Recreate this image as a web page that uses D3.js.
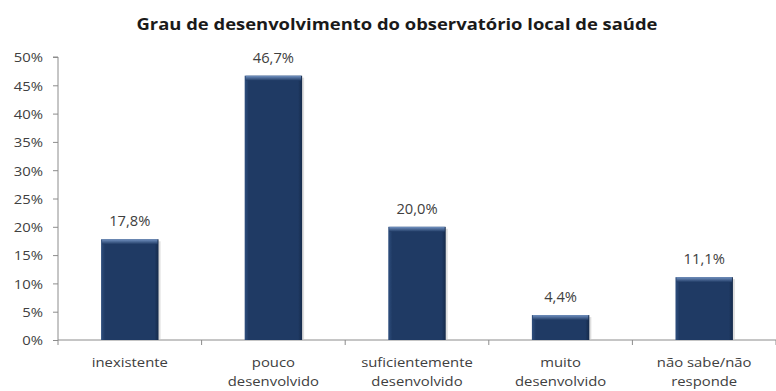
<!DOCTYPE html>
<html><head><meta charset="utf-8">
<script src="https://cdn.jsdelivr.net/npm/d3@7"></script>
<style>body{margin:0;background:#fff;} text{font-family:"Open Sans",Lato,sans-serif;}</style>
</head><body>
<svg id="c" width="776" height="391"></svg>
<script>
const categories = [["inexistente"],["pouco","desenvolvido"],["suficientemente","desenvolvido"],["muito","desenvolvido"],["não sabe/não","responde"]];
const values = [17.8, 46.7, 20.0, 4.4, 11.1];
const valueLabels = ["17,8%","46,7%","20,0%","4,4%","11,1%"];
const yTicks = [0,5,10,15,20,25,30,35,40,45,50];
const title = "Grau de desenvolvimento do observatório local de saúde";

const svg = d3.select("#c");
const m = {l:58, r:0, t:57, b:51};
const W = 776, H = 391;
const x = d3.scaleBand().domain(d3.range(values.length)).range([m.l, W - m.r]).paddingInner(0.6).paddingOuter(0.3);
const y = d3.scaleLinear().domain([0,50]).range([H - m.b, m.t]);

function stretch(sel, f){
  sel.each(function(){ const w = this.getComputedTextLength(); d3.select(this).attr("textLength", w*f).attr("lengthAdjust","spacingAndGlyphs"); });
}

const defs = svg.append("defs");
const g1 = defs.append("linearGradient").attr("id","bev").attr("x1",0).attr("y1",0).attr("x2",0).attr("y2",1);
g1.append("stop").attr("offset","0").attr("stop-color","#7393c2");
g1.append("stop").attr("offset","1").attr("stop-color","#1f3a64");
const g2 = defs.append("linearGradient").attr("id","side").attr("x1",0).attr("y1",0).attr("x2",1).attr("y2",0);
g2.append("stop").attr("offset","0").attr("stop-color","#2f4f7e");
g2.append("stop").attr("offset","0.07").attr("stop-color","#1f3a64");
g2.append("stop").attr("offset","0.93").attr("stop-color","#1f3a64");
g2.append("stop").attr("offset","1").attr("stop-color","#152a4a");

svg.append("text").attr("x", 397).attr("y", 30).attr("text-anchor","middle")
  .style("font-size","16.5px").style("font-weight","bold").attr("fill","#1a1a1a")
  .attr("textLength", 521).attr("lengthAdjust","spacingAndGlyphs").text(title);

// y axis
const ya = svg.append("g").attr("transform",`translate(${m.l},0)`)
  .call(d3.axisLeft(y).tickValues(yTicks).tickSize(5).tickFormat(d => d + "%"));
ya.select(".domain").attr("stroke","#8c8c8c").attr("d", `M-5,${y(50)}H0V${y(0)}`);
ya.selectAll(".tick line").attr("stroke","#8c8c8c");
ya.selectAll(".tick text").attr("x",-15).attr("dy","0.36em").style("font-size","13.5px").attr("fill","#404040").style("font-family","'Open Sans', sans-serif");
stretch(ya.selectAll(".tick text"), 1.1);

// x axis
const bounds = d3.range(values.length + 1).map(i => m.l + i * (W - m.l - m.r) / values.length);
svg.append("line").attr("x1", m.l).attr("x2", W).attr("y1", y(0)).attr("y2", y(0)).attr("stroke","#8c8c8c");
svg.selectAll(".xt").data(bounds).join("line").attr("x1", d=>d).attr("x2", d=>d)
  .attr("y1", y(0)).attr("y2", y(0)+5).attr("stroke","#8c8c8c");

// bars
const bars = svg.selectAll(".bar").data(values).join("g");
bars.append("rect").attr("x",(d,i)=>x(i)+2).attr("y",d=>y(d)+2).attr("width",x.bandwidth()).attr("height",d=>y(0)-y(d)-2)
  .attr("fill","#c8c8c8").attr("opacity",0.6);
bars.append("rect").attr("x",(d,i)=>x(i)).attr("y",d=>y(d)).attr("width",x.bandwidth()).attr("height",d=>y(0)-y(d))
  .attr("fill","url(#side)");
bars.append("rect").attr("x",(d,i)=>x(i)+1).attr("y",d=>y(d)).attr("width",x.bandwidth()-2).attr("height",5)
  .attr("fill","url(#bev)");

const vl = svg.selectAll(".vl").data(values).join("text")
  .attr("x",(d,i)=>x(i)+x.bandwidth()/2).attr("y",d=>y(d)-13).attr("text-anchor","middle")
  .style("font-size","14px").attr("fill","#404040").text((d,i)=>valueLabels[i]);
stretch(vl, 1.05);

const cl = svg.selectAll(".cl").data(categories).join("text")
  .attr("x",(d,i)=>x(i)+x.bandwidth()/2).attr("y", 367).attr("text-anchor","middle")
  .style("font-size","13.5px").attr("fill","#404040");
cl.each(function(d){
  const t = d3.select(this);
  d.forEach((s,j)=>t.append("tspan").attr("x", t.attr("x")).attr("dy", j===0?0:19).text(s));
});
cl.selectAll("tspan").each(function(){ const w = this.getComputedTextLength(); d3.select(this).attr("textLength", w*1.1).attr("lengthAdjust","spacingAndGlyphs"); });
</script>
</body></html>
